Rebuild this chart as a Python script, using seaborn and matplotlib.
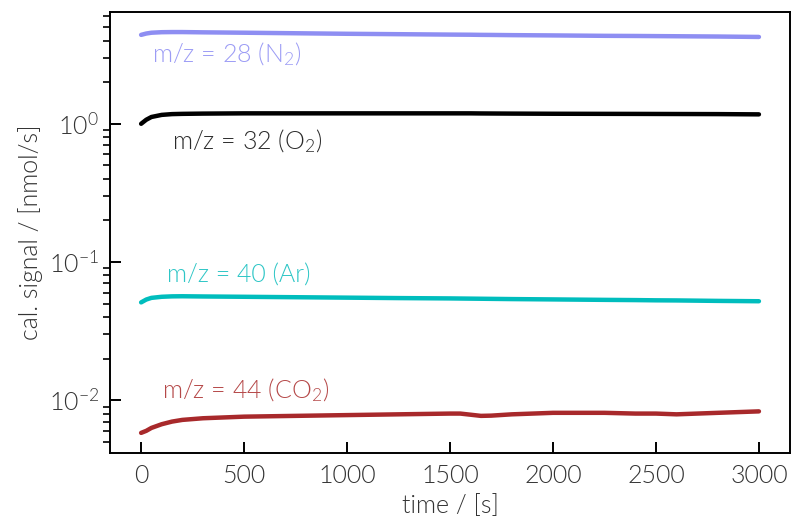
import matplotlib
matplotlib.use("Agg")
import matplotlib.pyplot as plt
import matplotlib.ticker as mticker
import numpy as np
import pandas as pd
import seaborn as sns

# Sample times [s]
time_s = [0, 25, 50, 100, 150, 200, 300, 500, 750, 1000, 1250, 1500, 1550,
          1600, 1650, 1700, 1800, 2000, 2250, 2400, 2500, 2600, 2700, 2800, 3000]

# Calibrated signals [nmol/s]
n2 = [4.40, 4.50, 4.56, 4.60, 4.61, 4.61, 4.59, 4.56, 4.52, 4.48, 4.45, 4.42, 4.415,
      4.41, 4.40, 4.395, 4.38, 4.36, 4.33, 4.32, 4.31, 4.30, 4.29, 4.28, 4.25]
o2 = [1.00, 1.07, 1.12, 1.16, 1.175, 1.18, 1.185, 1.19, 1.19, 1.19, 1.19, 1.19, 1.19,
      1.19, 1.188, 1.187, 1.185, 1.182, 1.18, 1.179, 1.178, 1.177, 1.176, 1.175, 1.17]
ar = [0.0510, 0.0535, 0.0550, 0.0560, 0.0564, 0.0565, 0.0563, 0.0560, 0.0556, 0.0552,
      0.0548, 0.0545, 0.0544, 0.0543, 0.0542, 0.0541, 0.0539, 0.0536, 0.0532, 0.0530,
      0.0528, 0.0527, 0.0525, 0.0523, 0.0520]
co2 = [0.0058, 0.0060, 0.0063, 0.0067, 0.0070, 0.0072, 0.0074, 0.0076, 0.0077, 0.0078,
       0.0079, 0.0080, 0.0080, 0.00785, 0.0077, 0.00773, 0.0079, 0.0081, 0.0081, 0.0080,
       0.0080, 0.0079, 0.0080, 0.0081, 0.0083]

series_names = ["N2", "O2", "Ar", "CO2"]
series_labels = ["m/z = 28 (N$_2$)", "m/z = 32 (O$_2$)", "m/z = 40 (Ar)", "m/z = 44 (CO$_2$)"]
series_colors = ["#8e8ef2", "#000000", "#00bdbd", "#a8292b"]
label_colors = ["#9c9cf5", "#2b2b2b", "#2ec6c6", "#b54848"]
label_pos_t = [55, 150, 125, 100]
label_pos_y = [3.2, 0.75, 0.080, 0.0118]

sns.set_theme(style="ticks")
plt.rcParams["font.family"] = ["Lato", "DejaVu Sans"]
plt.rcParams["font.weight"] = 300
plt.rcParams["mathtext.fontset"] = "custom"
plt.rcParams["mathtext.rm"] = "Lato:weight=300"
plt.rcParams["mathtext.default"] = "regular"

df = pd.concat([
    pd.DataFrame({"time": time_s, "signal": vals, "species": name})
    for name, vals in zip(series_names, [n2, o2, ar, co2])
], ignore_index=True)

fig = plt.figure(figsize=(7.93, 5.23), dpi=100)
ax = fig.add_axes([0.139, 0.134, 0.857, 0.843])

sns.lineplot(data=df, x="time", y="signal", hue="species", hue_order=series_names,
             palette=dict(zip(series_names, series_colors)), linewidth=3.2,
             legend=False, ax=ax)
ax.set_yscale("log")

FS = 18
for lab, col, tx, ty in zip(series_labels, label_colors, label_pos_t, label_pos_y):
    ax.text(tx, ty, lab, color=col, fontsize=FS, va="center", ha="left",
            fontweight=300)

ax.set_xlabel("time / [s]", fontsize=FS, color="#333333", fontweight=300)
ax.set_ylabel("cal. signal / [nmol/s]", fontsize=FS, color="#333333", fontweight=300)

ax.xaxis.set_major_locator(mticker.MultipleLocator(500))
ax.tick_params(axis="both", which="major", direction="in", length=8, width=1.4,
               labelsize=FS, labelcolor="#333333", color="black", pad=8)
ax.tick_params(axis="y", which="minor", direction="out", length=5, width=1.2, color="black")
ax.tick_params(axis="x", which="minor", bottom=False)

for s in ax.spines.values():
    s.set_visible(True)
    s.set_color("black")
    s.set_linewidth(1.4)

fig.savefig("out.png", dpi=100)
